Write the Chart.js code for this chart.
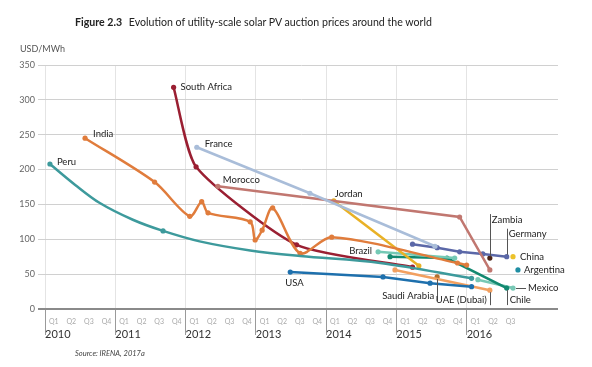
<!doctype html>
<html lang="en">
<head>
<meta charset="utf-8">
<script src="https://cdn.jsdelivr.net/npm/chart.js"></script>
<style>
  body { margin: 0; background: #fff; font-family: Lato, "Open Sans", sans-serif; }
  .wrap { position: relative; width: 592px; height: 367px; overflow: hidden; }
  #chart { position: absolute; left: 0; top: 0; }
  .title { position: absolute; left: 75px; top: 16px; font-size: 10.6px; color: #222; white-space: nowrap; }
  .title b { font-weight: 700; margin-right: 4px; }
  .unit { position: absolute; left: 20px; top: 43px; font-size: 9px; color: #555; }
  .source { position: absolute; left: 75px; top: 349px; font-size: 7.5px; font-style: italic; color: #444; }
</style>
</head>
<body>
<div class="wrap">
  <canvas id="chart" width="592" height="367"></canvas>
  <div class="title"><b>Figure 2.3</b> Evolution of utility-scale solar PV auction prices around the world</div>
  <div class="unit">USD/MWh</div>
  <div class="source">Source: IRENA, 2017a</div>
</div>

<script>
// ---- data: [time in years, USD/MWh] ----
// Peru is a drawn trend curve; only some of its readings carry a dot
var peru        = [[2010.07, 208], [2010.43, 178], [2010.78, 152], [2011.25, 128], [2011.68, 112],
                   [2012.2, 97], [2012.92, 84], [2013.63, 76], [2014.77, 66], [2016.07, 44]];
var peruDots    = [0, 4, 9];
var india       = [[2010.57, 245], [2011.56, 182], [2012.06, 133], [2012.23, 154], [2012.32, 138],
                   [2012.92, 125], [2012.99, 99], [2013.09, 113], [2013.24, 145], [2013.63, 80],
                   [2014.08, 103], [2015.87, 66], [2016.0, 63]];
var southAfrica = [[2011.83, 318], [2012.15, 204], [2013.58, 92], [2015.23, 60]];
var france      = [[2012.16, 232], [2013.77, 166], [2015.55, 90]];
var morocco     = [[2012.46, 176], [2015.9, 132], [2016.33, 56]];
var jordan      = [[2014.11, 155], [2015.32, 62]];
var brazil      = [[2014.74, 82], [2015.83, 73]];
var chile       = [[2014.91, 75], [2015.72, 73], [2016.57, 30]];
var mexico      = [[2016.16, 42], [2016.66, 30]];
var usa         = [[2013.49, 53], [2014.81, 46], [2015.48, 37], [2016.07, 32]];
var uae         = [[2014.98, 56], [2016.33, 27]];
var saudi       = [[2015.58, 46]];
var germany     = [[2015.23, 93], [2015.58, 88], [2015.9, 82], [2016.23, 79], [2016.57, 75]];
var zambia      = [[2016.33, 73]];
var china       = [[2016.66, 75]];
var argentina   = [[2016.73, 56]];

var years    = [2010, 2011, 2012, 2013, 2014, 2015, 2016];
var quarters = ['Q1', 'Q2', 'Q3', 'Q4'];
var yTicks   = [0, 50, 100, 150, 200, 250, 300, 350];

// quarter ticks: year boundaries + quarter centres (2016 only up to Q3)
var xTicks = [];
years.forEach(function (y) {
  xTicks.push(y);
  var nq = y === 2016 ? 3 : 4;
  for (var q = 0; q < nq; q++) xTicks.push(y + q * 0.25 + 0.125);
});

function toXY(arr) { return arr.map(function (p) { return {x: p[0], y: p[1]}; }); }

function series(label, arr, color, tension) {
  return {
    label: label, data: toXY(arr),
    borderColor: color, backgroundColor: color,
    pointBackgroundColor: color, pointBorderWidth: 0,
    borderWidth: 2.5, pointRadius: 2.6,
    tension: tension || 0
  };
}

// labels next to series: dataset label, point index, pixel offset, alignment, optional leader
var seriesLabels = [
  {ds: 'Peru', i: 0, dx: 7, dy: -2, align: 'left'},
  {ds: 'India', i: 0, dx: 8, dy: -4, align: 'left'},
  {ds: 'South Africa', i: 0, dx: 7, dy: 0, align: 'left'},
  {ds: 'France', i: 0, dx: 8, dy: -3, align: 'left'},
  {ds: 'Morocco', i: 0, dx: 5, dy: -6, align: 'left'},
  {ds: 'Jordan', i: 0, dx: 1, dy: -7, align: 'left'},
  {ds: 'Brazil', i: 0, dx: -6, dy: -1, align: 'right'},
  {ds: 'USA', i: 0, dx: -5, dy: 11, align: 'left'},
  {ds: 'Saudi Arabia', i: 0, dx: -3, dy: 19, align: 'right', lead: [0, 24]},
  {ds: 'UAE (Dubai)', i: 1, dx: -3, dy: 10, align: 'right', lead: [0, 15]},
  {ds: 'Chile', i: 2, dx: 3, dy: 12, align: 'left', lead: [0, 17]},
  {ds: 'Mexico', i: 1, dx: 15, dy: 0, align: 'left', leadX: [3, 13]},
  {ds: 'Argentina', i: 0, dx: 6, dy: 0, align: 'left'},
  {ds: 'China', i: 0, dx: 7, dy: 0, align: 'left'},
  {ds: 'Germany', i: 4, dx: 2, dy: -23, align: 'left', lead: [0, -28]},
  {ds: 'Zambia', i: 0, dx: 2, dy: -38, align: 'left', lead: [0, -44]}
];

var labelPlugin = {
  id: 'seriesLabels',
  afterDatasetsDraw: function (chart) {
    var ctx = chart.ctx, xs = chart.scales.x, ys = chart.scales.y;
    ctx.save();
    ctx.font = '9.5px Lato, "Open Sans", sans-serif';
    ctx.fillStyle = '#222';
    ctx.textBaseline = 'middle';
    ctx.strokeStyle = '#555';
    ctx.lineWidth = 1;
    seriesLabels.forEach(function (l) {
      var ds = chart.data.datasets.find(function (d) { return d.label === l.ds; });
      var p = ds.data[l.i];
      var px = xs.getPixelForValue(p.x), py = ys.getPixelForValue(p.y);
      if (l.lead) {
        ctx.beginPath();
        ctx.moveTo(Math.round(px) + 0.5, py + (l.lead[1] > 0 ? 2 : -2));
        ctx.lineTo(Math.round(px) + 0.5, py + l.lead[1]);
        ctx.stroke();
      }
      if (l.leadX) {
        ctx.beginPath();
        ctx.moveTo(px + l.leadX[0], Math.round(py) + 0.5);
        ctx.lineTo(px + l.leadX[1], Math.round(py) + 0.5);
        ctx.stroke();
      }
      ctx.textAlign = l.align;
      ctx.fillText(l.ds, px + l.dx, py + l.dy);
    });
    ctx.restore();
  }
};

var peruSet = series('Peru', peru, '#3d9a9c', 0.35);
peruSet.pointRadius = function (c) { return peruDots.indexOf(c.dataIndex) >= 0 ? 2.6 : 0; };

new Chart(document.getElementById('chart'), {
  type: 'line',
  data: {
    datasets: [
      peruSet,
      series('India', india, '#e07c3c', 0.3),
      series('France', france, '#a9bdd9', 0),
      series('Morocco', morocco, '#c17770', 0),
      series('South Africa', southAfrica, '#9a1f32', 0.2),
      series('Jordan', jordan, '#e9b126', 0),
      series('Brazil', brazil, '#74c9b5', 0),
      series('Germany', germany, '#5b68a8', 0),
      series('Chile', chile, '#128870', 0),
      series('USA', usa, '#1e70ad', 0),
      series('UAE (Dubai)', uae, '#f2a060', 0),
      series('Mexico', mexico, '#78c8b5', 0),
      series('Saudi Arabia', saudi, '#b4702c', 0),
      series('Zambia', zambia, '#4b2317', 0),
      series('China', china, '#ecc22a', 0),
      series('Argentina', argentina, '#1f8ea3', 0)
    ]
  },
  options: {
    responsive: false,
    animation: false,
    layout: {padding: {left: 0, top: 65, right: 34, bottom: 24}},
    plugins: {legend: {display: false}, tooltip: {enabled: false}},
    scales: {
      x: {
        type: 'linear', position: 'bottom', min: 2010, max: 2017.3,
        afterBuildTicks: function (s) { s.ticks = xTicks.map(function (v) { return {value: v}; }); },
        afterFit: function (s) { s.height = 18; },
        border: {display: false},
        grid: {
          color: function (c) { return c.tick && Number.isInteger(c.tick.value) ? '#e4e4e4' : 'rgba(0,0,0,0)'; },
          tickColor: function (c) { return c.tick && Number.isInteger(c.tick.value) ? '#9a9a9a' : 'rgba(0,0,0,0)'; },
          tickLength: 26
        },
        ticks: {
          autoSkip: false, maxRotation: 0, padding: -17,
          color: '#aaa', font: {size: 7, family: 'Lato'},
          callback: function (v) {
            var f = v - Math.floor(v);
            return Number.isInteger(v) ? '' : quarters[Math.floor(f * 4)];
          }
        }
      },
      x2: {
        type: 'linear', position: 'bottom', min: 2010, max: 2017.3,
        afterBuildTicks: function (s) { s.ticks = years.map(function (v) { return {value: v}; }); },
        afterFit: function (s) { s.height = 16; },
        border: {display: false},
        grid: {drawOnChartArea: false, drawTicks: false},
        ticks: {
          autoSkip: false, maxRotation: 0, align: 'start', padding: 1,
          color: '#333', font: {size: 11, family: 'Lato'},
          callback: function (v) { return String(v) + '  '; }
        }
      },
      y: {
        min: 0, max: 350,
        afterBuildTicks: function (s) { s.ticks = yTicks.map(function (v) { return {value: v}; }); },
        afterFit: function (s) { s.width = 45; },
        border: {display: false},
        grid: {
          color: function (c) { return c.tick && c.tick.value === 0 ? '#8a8a8a' : '#d0d0d0'; },
          lineWidth: function (c) { return c.tick && c.tick.value === 0 ? 2 : 1; },
          tickLength: 7
        },
        ticks: {color: '#666', font: {size: 9, family: 'Lato'}, padding: 3}
      }
    }
  },
  plugins: [labelPlugin]
});
</script>
</body>
</html>
